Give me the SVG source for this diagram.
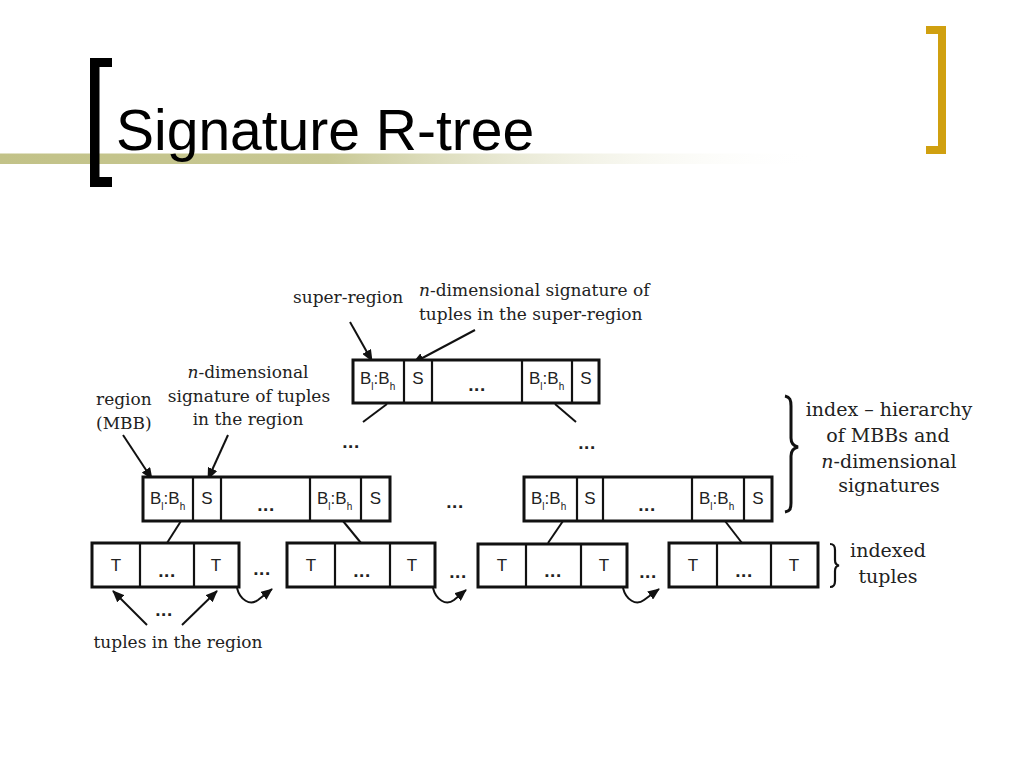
<svg xmlns="http://www.w3.org/2000/svg" width="1024" height="768" viewBox="0 0 1024 768">
<defs>
<linearGradient id="bar" x1="0" y1="0" x2="1" y2="0">
<stop offset="0" stop-color="#c2c288"/>
<stop offset="0.4" stop-color="#c8c894"/>
<stop offset="1" stop-color="#ffffff" stop-opacity="0"/>
</linearGradient>
<marker id="ah" markerUnits="userSpaceOnUse" markerWidth="12" markerHeight="10" refX="11" refY="5" orient="auto">
<path d="M0,0 L12,5 L0,10 z" fill="#111"/>
</marker>
<style>
.box{fill:#fff;stroke:#111;stroke-width:3}
.div{stroke:#111;stroke-width:2.2}
.cell{font-family:"Liberation Sans",Arial,sans-serif;font-size:17px;fill:#222}
.sub{font-size:10px}
.dots{font-family:"Liberation Sans",Arial,sans-serif;font-size:19px;font-weight:bold;fill:#222;text-anchor:middle;letter-spacing:0.5px}
.lbl{font-family:"DejaVu Serif","Liberation Serif",serif;font-size:17px;fill:#222}
.big{font-family:"DejaVu Serif","Liberation Serif",serif;font-size:19px;fill:#222;text-anchor:middle}
.mid{text-anchor:middle}
.ln{stroke:#111;stroke-width:2;fill:none}
.ar{stroke:#111;stroke-width:2;fill:none;marker-end:url(#ah)}
</style>
</defs>
<rect width="1024" height="768" fill="#fff"/>

<g id="title">
<rect x="0" y="153.5" width="820" height="10.5" fill="url(#bar)"/>
<path d="M90,58 H112 V67 H99.5 V177 H112 V187 H90 Z" fill="#000"/>
<path d="M926,26 H946 V154 H926 V146 H938 V34 H926 Z" fill="#d0a010"/>
<text x="116" y="150" font-family="Liberation Sans,Arial,sans-serif" font-size="57" fill="#000">Signature R-tree</text>
</g>

<g id="connectors">
<line class="ln" x1="387" y1="404" x2="363" y2="422"/>
<line class="ln" x1="555" y1="404" x2="576" y2="422"/>
<line class="ln" x1="181" y1="521" x2="167" y2="543"/>
<line class="ln" x1="343" y1="521" x2="361" y2="543"/>
<line class="ln" x1="563" y1="521" x2="548" y2="543"/>
<line class="ln" x1="725" y1="521" x2="742" y2="543"/>
<line class="ar" x1="350" y1="322" x2="372" y2="361"/>
<line class="ar" x1="475" y1="330" x2="413" y2="363"/>
<line class="ar" x1="123" y1="435" x2="152" y2="479"/>
<line class="ar" x1="228" y1="435" x2="208" y2="479"/>
<line class="ar" x1="147" y1="625" x2="113" y2="591"/>
<line class="ar" x1="182" y1="625" x2="217" y2="591"/>
<path class="ar" d="M237,588 C240,600 250,606 258,600 L272,589"/>
<path class="ar" d="M433,588 C436,600 446,606 454,600 L466,590"/>
<path class="ar" d="M623,588 C626,600 636,606 644,600 L659,589"/>
</g>

<g id="node-top">
<rect class="box" x="353" y="360" width="246" height="43"/>
<line class="div" x1="404" y1="360" x2="404" y2="403"/>
<line class="div" x1="432" y1="360" x2="432" y2="403" stroke-width="3"/>
<line class="div" x1="522" y1="360" x2="522" y2="403" stroke-width="3"/>
<line class="div" x1="572" y1="360" x2="572" y2="403"/>
<text class="cell" x="360" y="384">B<tspan class="sub" dy="6">l</tspan><tspan dy="-6">:</tspan>B<tspan class="sub" dy="6">h</tspan></text>
<text class="cell mid" x="418" y="384">S</text>
<text class="dots" x="477" y="391">...</text>
<text class="cell" x="529" y="384">B<tspan class="sub" dy="6">l</tspan><tspan dy="-6">:</tspan>B<tspan class="sub" dy="6">h</tspan></text>
<text class="cell mid" x="586" y="384">S</text>
</g>

<g id="node-l1a">
<rect class="box" x="143" y="477" width="247" height="44"/>
<line class="div" x1="193" y1="477" x2="193" y2="521"/>
<line class="div" x1="221" y1="477" x2="221" y2="521" stroke-width="3"/>
<line class="div" x1="310" y1="477" x2="310" y2="521" stroke-width="3"/>
<line class="div" x1="361" y1="477" x2="361" y2="521"/>
<text class="cell" x="150" y="504">B<tspan class="sub" dy="6">l</tspan><tspan dy="-6">:</tspan>B<tspan class="sub" dy="6">h</tspan></text>
<text class="cell mid" x="207" y="504">S</text>
<text class="dots" x="266" y="511">...</text>
<text class="cell" x="317" y="504">B<tspan class="sub" dy="6">l</tspan><tspan dy="-6">:</tspan>B<tspan class="sub" dy="6">h</tspan></text>
<text class="cell mid" x="375.5" y="504">S</text>
</g>

<g id="node-l1b">
<rect class="box" x="524" y="477" width="248" height="44"/>
<line class="div" x1="577" y1="477" x2="577" y2="521"/>
<line class="div" x1="603" y1="477" x2="603" y2="521" stroke-width="3"/>
<line class="div" x1="692" y1="477" x2="692" y2="521" stroke-width="3"/>
<line class="div" x1="744" y1="477" x2="744" y2="521"/>
<text class="cell" x="531" y="504">B<tspan class="sub" dy="6">l</tspan><tspan dy="-6">:</tspan>B<tspan class="sub" dy="6">h</tspan></text>
<text class="cell mid" x="590" y="504">S</text>
<text class="dots" x="647" y="511">...</text>
<text class="cell" x="699" y="504">B<tspan class="sub" dy="6">l</tspan><tspan dy="-6">:</tspan>B<tspan class="sub" dy="6">h</tspan></text>
<text class="cell mid" x="758" y="504">S</text>
</g>

<g id="tuples-1">
<rect class="box" x="92" y="543" width="147" height="44"/>
<line class="div" x1="140" y1="543" x2="140" y2="587"/>
<line class="div" x1="194" y1="543" x2="194" y2="587"/>
<text class="cell mid" x="116" y="571">T</text>
<text class="dots" x="167" y="577">...</text>
<text class="cell mid" x="216" y="571">T</text>
</g>

<g id="tuples-2">
<rect class="box" x="287" y="543" width="148" height="44"/>
<line class="div" x1="335" y1="543" x2="335" y2="587"/>
<line class="div" x1="390" y1="543" x2="390" y2="587"/>
<text class="cell mid" x="311" y="571">T</text>
<text class="dots" x="362" y="577">...</text>
<text class="cell mid" x="412" y="571">T</text>
</g>

<g id="tuples-3">
<rect class="box" x="478" y="544" width="149" height="43"/>
<line class="div" x1="526" y1="544" x2="526" y2="587"/>
<line class="div" x1="581" y1="544" x2="581" y2="587"/>
<text class="cell mid" x="502" y="571">T</text>
<text class="dots" x="553" y="577">...</text>
<text class="cell mid" x="604" y="571">T</text>
</g>

<g id="tuples-4">
<rect class="box" x="669" y="543" width="149" height="44"/>
<line class="div" x1="717" y1="543" x2="717" y2="587"/>
<line class="div" x1="771" y1="543" x2="771" y2="587"/>
<text class="cell mid" x="693" y="571">T</text>
<text class="dots" x="744" y="577">...</text>
<text class="cell mid" x="794" y="571">T</text>
</g>

<g id="ellipses">
<text class="dots" x="351" y="448">...</text>
<text class="dots" x="587" y="449">...</text>
<text class="dots" x="455" y="508">...</text>
<text class="dots" x="262" y="575">...</text>
<text class="dots" x="458" y="578">...</text>
<text class="dots" x="648" y="578">...</text>
<text class="dots" x="164" y="616">...</text>
</g>

<g id="labels">
<text class="lbl" x="293" y="303">super-region</text>
<text class="lbl" x="419" y="296"><tspan font-style="italic">n</tspan>-dimensional signature of</text>
<text class="lbl" x="419" y="320">tuples in the super-region</text>
<text class="lbl mid" x="248" y="378"><tspan font-style="italic">n</tspan>-dimensional</text>
<text class="lbl mid" x="249" y="402">signature of tuples</text>
<text class="lbl mid" x="248" y="425">in the region</text>
<text class="lbl" x="96" y="405">region</text>
<text class="lbl" x="96" y="429">(MBB)</text>
<text class="lbl mid" x="178" y="648">tuples in the region</text>
<text class="big" x="889" y="416">index – hierarchy</text>
<text class="big" x="888" y="442">of MBBs and</text>
<text class="big" x="889" y="468"><tspan font-style="italic">n</tspan>-dimensional</text>
<text class="big" x="889" y="492">signatures</text>
<text class="big" x="888" y="557">indexed</text>
<text class="big" x="888" y="583">tuples</text>
</g>

<g id="braces">
<path d="M785,396 C790,397 791,400 791,406 L791,438 C791,444 794,446 798,447 C794,448 791,450 791,456 L791,503 C791,509 790,511 785,512" fill="none" stroke="#111" stroke-width="3"/>
<path d="M830,544 C834,544 835,546 835,550 L835,560 C835,563 836,565 839,565.5 C836,566 835,568 835,571 L835,581 C835,585 834,587 830,587" fill="none" stroke="#111" stroke-width="2.2"/>
</g>
</svg>
